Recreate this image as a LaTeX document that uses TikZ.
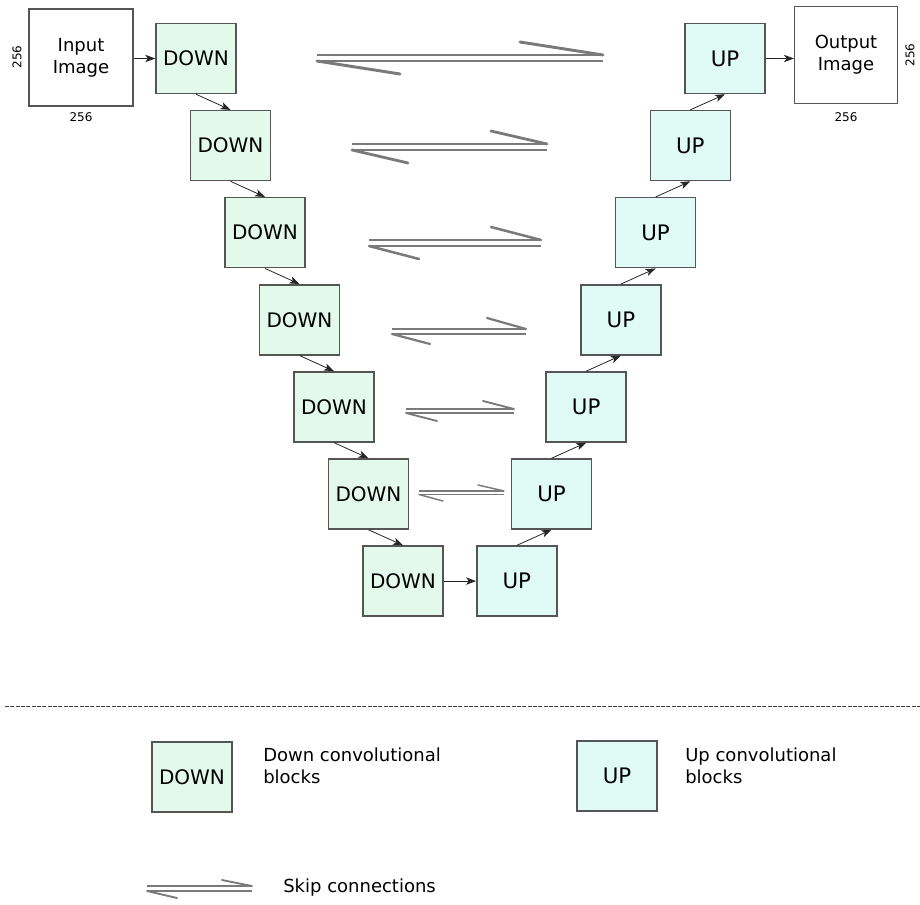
\documentclass[tikz,border=0pt]{standalone}
\usepackage{fontspec}
\setmainfont{DejaVu Sans}
\usetikzlibrary{arrows.meta}
\definecolor{downfill}{HTML}{E2F9EC}
\definecolor{upfill}{HTML}{E0FBF6}
\definecolor{boxline}{HTML}{555555}
\definecolor{skipgray}{HTML}{7A7A7A}
\tikzset{
  imgbox/.style={draw=boxline, line width=1.1pt, fill=white, minimum width=78pt, minimum height=73pt, inner sep=0pt, align=center, font=\fontsize{13.5}{16.5}\selectfont},
  downbox/.style={draw=boxline, line width=1.1pt, fill=downfill, minimum width=60pt, minimum height=52.5pt, inner sep=0pt, font=\fontsize{15}{18}\selectfont},
  upbox/.style={draw=boxline, line width=1.1pt, fill=upfill, minimum width=60pt, minimum height=52.5pt, inner sep=0pt, font=\fontsize{16}{19}\selectfont},
  dimlabel/.style={font=\fontsize{9}{11}\selectfont, inner sep=0pt},
  legtext/.style={font=\fontsize{13.5}{16.5}\selectfont, align=left, anchor=west, inner sep=0pt},
  flow/.style={draw=black!85, line width=0.6pt, -{Stealth[length=7.5pt, width=5.5pt, inset=2pt]}},
}
% skip connection: #1 width, #2 x1, #3 x2, #4 ytop, #5 ybot, #6 top barb start, #7 bottom barb end
\newcommand{\skipconn}[7]{%
  \draw[skipgray, line width=#1] (#2,#4) -- (#3,#4);
  \draw[skipgray, line width=#1] (#2,#5) -- (#3,#5);
  \draw[skipgray, line width=#1, line cap=round] (#6) -- (#3,#4);
  \draw[skipgray, line width=#1, line cap=round] (#2,#5) -- (#7);
}
\begin{document}
\begin{tikzpicture}[x=0.75pt, y=-0.75pt]
\useasboundingbox (0,0) rectangle (920,905);

% image boxes
\node[imgbox] (in) at (81,57.5) {\raisebox{-2pt}{\shortstack{Input\\[1pt]Image}}};
\node[imgbox, minimum width=77pt] (out) at (846,55) {\raisebox{-2pt}{\shortstack{Output\\[1pt]Image}}};
\node[dimlabel, rotate=90] (inl) at (17,57) {256};
\node[dimlabel] (inb) at (81,117) {256};
\node[dimlabel, rotate=90] (outr) at (910,55) {256};
\node[dimlabel] (outb) at (846,117) {256};

% down / up blocks
\foreach \i in {0,...,6}{
  \node[downbox] (d\i) at ({196+34.5*\i},{58.5+87.1*\i}) {DOWN};
  \node[upbox] (u\i) at ({725-34.7*\i},{58.5+87.1*\i}) {UP};
}

% flow arrows
\draw[flow] (in.east |- d0.west) -- (d0.west);
\foreach \i/\j in {0/1,1/2,2/3,3/4,4/5,5/6}{
  \draw[flow] (d\i.south) -- (d\j.north);
  \draw[flow] (u\j.north) -- (u\i.south);
}
\draw[flow] (d6.east) -- (u6.west);
\draw[flow] (u0.east) -- (out.west |- u0.east);

% skip connections
\skipconn{2.2pt}{317}{603}{55}{61}{520,42}{400,74}
\skipconn{2.1pt}{352}{547}{144}{150}{491,131}{408,163}
\skipconn{1.9pt}{369}{541}{240}{246}{491,227}{419,259}
\skipconn{1.65pt}{392}{526}{329}{334}{487,318}{430,344}
\skipconn{1.4pt}{406}{514}{409}{413}{483,401}{437,421}
\skipconn{1.1pt}{419}{504}{491}{494.5}{478,485}{443,501}

% separator
\coordinate (sepL) at (5,706);
\coordinate (sepR) at (920,706);
\draw[draw=black!75, line width=0.75pt, dash pattern=on 3pt off 1pt] (sepL) -- (sepR);

% legend
\node[downbox] (ld) at (192,777) {DOWN};
\node[legtext] (ldt) at (263,766) {Down convolutional\\blocks};
\node[upbox] (lu) at (617,776) {UP};
\node[legtext] (lut) at (685,766) {Up convolutional\\blocks};
\skipconn{1.4pt}{147}{252}{886}{891}{222,880}{177,898}
\node[legtext] (lst) at (283,888) {Skip connections};
\end{tikzpicture}
\end{document}
